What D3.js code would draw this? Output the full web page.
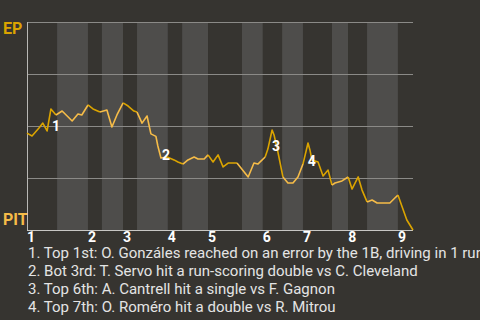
<!DOCTYPE html>
<html>
<head>
	<meta charset="utf-8">
	<script src="https://d3js.org/d3.v7.min.js"></script>
	<style>
		body {
			margin: 0;
			background: #363430;
		}
		text {
			font-family: Roboto, "Noto Sans", sans-serif;
		}
	</style>
</head>
<body>
	<script type="text/javascript">
		/*
			Win probability for EP, game progress goes 0 -> 100
		*/
		var progress = [0, 1.3, 3.1, 4.1, 5.2, 6.2, 7.5, 9.1, 11.7, 13.2, 14.2, 15.8, 17.1, 18.9, 20.7, 22.0,
			23.3, 24.9, 26.2, 27.7, 28.5, 29.8, 31.1, 32.1, 33.4, 33.9, 34.7, 36.3, 38.1, 39.1, 40.4, 41.7,
			43.3, 44.3, 45.9, 46.9, 48.2, 49.5, 50.8, 52.1, 54.4, 57.3, 58.8, 59.8, 61.7, 62.4, 63.5, 64.0,
			65.0, 66.3, 67.6, 68.9, 70.2, 71.5, 72.8, 73.3, 73.8, 75.4, 76.7, 78.0, 79.0, 79.8, 81.6, 83.2,
			84.2, 85.8, 86.8, 88.1, 89.4, 90.7, 94.0, 95.3, 96.1, 97.2, 98.4, 100];
		var winProb = [0.466, 0.452, 0.490, 0.514, 0.476, 0.582, 0.553, 0.572, 0.524, 0.558, 0.553, 0.601, 0.582, 0.567, 0.577, 0.495,
			0.553, 0.611, 0.596, 0.572, 0.567, 0.514, 0.548, 0.462, 0.450, 0.404, 0.346, 0.351, 0.337, 0.327, 0.317, 0.337,
			0.351, 0.341, 0.341, 0.361, 0.327, 0.361, 0.303, 0.322, 0.322, 0.255, 0.322, 0.317, 0.351, 0.389, 0.481, 0.457,
			0.375, 0.255, 0.226, 0.226, 0.255, 0.317, 0.418, 0.385, 0.337, 0.327, 0.260, 0.288, 0.216, 0.226, 0.236, 0.255,
			0.197, 0.255, 0.192, 0.135, 0.144, 0.130, 0.130, 0.154, 0.168, 0.111, 0.048, 0];

		// half inning boundaries, even = top, odd = bottom
		var halfInnings = [0, 7.8, 15.8, 19.4, 24.9, 28.5, 36.5, 40.2, 46.9, 55.7, 61.1, 66.1, 71.5, 79.0, 83.2, 88.1, 96.1, 100];
		var inningLabels = ["1", "2", "3", "4", "5", "6", "7", "8", "9"];
		var gridValues = [0.25, 0.5, 0.75, 1];

		var eventNums = ["1", "2", "3", "4"];
		var eventX = [7.5, 36.0, 64.5, 73.8];
		var eventY = [0.476, 0.337, 0.380, 0.308];
		var eventText = [
			"1. Top 1st: O. Gonzáles reached on an error by the 1B, driving in 1 run",
			"2. Bot 3rd: T. Servo hit a run-scoring double vs C. Cleveland",
			"3. Top 6th: A. Cantrell hit a single vs F. Gagnon",
			"4. Top 7th: O. Roméro hit a double vs R. Mitrou"
		];

		var awayTeam = "EP", homeTeam = "PIT";
		var awayColor = "#dba400", homeColor = "#f6bc48";

		/*
			Setup
		*/
		var width = 480, height = 320;
		var plotLeft = 27, plotRight = 413, plotTop = 22, plotBottom = 230;

		var svg = d3.select("body")
			.append("svg")
				.attr("width", width)
				.attr("height", height);

		var x = d3.scaleLinear().domain([0, 100]).range([plotLeft, plotRight]);
		var y = d3.scaleLinear().domain([0, 1]).range([plotBottom, plotTop]);

		/*
			Half inning bands
		*/
		var bands = d3.range(halfInnings.length - 1);
		svg.append("g").selectAll("rect")
			.data(bands)
			.enter().append("rect")
				.attr("x", function(i) { return x(halfInnings[i]); })
				.attr("y", y(1))
				.attr("width", function(i) { return x(halfInnings[i + 1]) - x(halfInnings[i]); })
				.attr("height", y(0) - y(1))
				.attr("fill", function(i) { return i % 2 == 0 ? "#363430" : "#4e4d4b"; });

		// grid
		svg.append("g").selectAll("line")
			.data(gridValues)
			.enter().append("line")
				.attr("x1", x(0))
				.attr("x2", x(100))
				.attr("y1", function(d) { return Math.round(y(d)) + 0.5; })
				.attr("y2", function(d) { return Math.round(y(d)) + 0.5; })
				.attr("stroke", "#8b8a87")
				.attr("stroke-width", 1);

		// axes lines
		svg.append("line")
			.attr("x1", x(0) + 0.5).attr("x2", x(0) + 0.5)
			.attr("y1", y(1)).attr("y2", y(0))
			.attr("stroke", "#b9b8b5");
		svg.append("line")
			.attr("x1", x(0)).attr("x2", x(100))
			.attr("y1", y(0) + 0.5).attr("y2", y(0) + 0.5)
			.attr("stroke", "#c8c7c4");

		/*
			Win prob line, coloured by who is batting
		*/
		function halfOf(v) {
			for (var i = 0; i < halfInnings.length - 1; i++) {
				if (v >= halfInnings[i] && v < halfInnings[i + 1]) return i;
			}
			return halfInnings.length - 2;
		}

		var pts = progress.map(function(p, i) { return [p, winProb[i]]; });
		var pieces = [];
		var cur = null;
		for (var i = 1; i < pts.length; i++) {
			var h = halfOf((pts[i - 1][0] + pts[i][0]) / 2) % 2;
			if (!cur || cur.h != h) {
				cur = { h: h, pts: [pts[i - 1]] };
				pieces.push(cur);
			}
			cur.pts.push(pts[i]);
		}

		var line = d3.line()
			.x(function(d) { return x(d[0]); })
			.y(function(d) { return y(d[1]); });

		svg.append("g").selectAll("path")
			.data(pieces)
			.enter().append("path")
				.attr("d", function(d) { return line(d.pts); })
				.attr("fill", "none")
				.attr("stroke", function(d) { return d.h == 0 ? awayColor : homeColor; })
				.attr("stroke-width", 1.6)
				.attr("stroke-linejoin", "round");

		/*
			Event markers
		*/
		svg.append("g").selectAll("text")
			.data(eventNums)
			.enter().append("text")
				.attr("x", function(d, i) { return x(eventX[i]); })
				.attr("y", function(d, i) { return y(eventY[i]); })
				.attr("text-anchor", "middle")
				.attr("font-size", 14)
				.attr("font-weight", "bold")
				.attr("fill", "#ffffff")
				.text(function(d) { return d; });

		/*
			Inning labels
		*/
		var tops = halfInnings.filter(function(d, i) { return i % 2 == 0 && i < halfInnings.length - 1; });
		svg.append("g").selectAll("text")
			.data(inningLabels)
			.enter().append("text")
				.attr("x", function(d, i) { return x(tops[i]) + 4; })
				.attr("y", 242)
				.attr("text-anchor", "middle")
				.attr("font-size", 14)
				.attr("font-weight", "bold")
				.attr("fill", "#ffffff")
				.text(function(d) { return d; });

		// team labels
		svg.append("text")
			.attr("x", 3).attr("y", y(1) + 12)
			.attr("font-size", 16).attr("font-weight", "bold")
			.attr("fill", awayColor)
			.text(awayTeam);
		svg.append("text")
			.attr("x", 3).attr("y", y(0) - 5)
			.attr("font-size", 16).attr("font-weight", "bold")
			.attr("fill", homeColor)
			.text(homeTeam);

		/*
			Event list
		*/
		svg.append("g").selectAll("text")
			.data(eventText)
			.enter().append("text")
				.attr("x", 28)
				.attr("y", function(d, i) { return 258 + i * 18; })
				.attr("font-size", 15)
				.attr("fill", "#e4e4e4")
				.text(function(d) { return d; });
	</script>
</body>
</html>
